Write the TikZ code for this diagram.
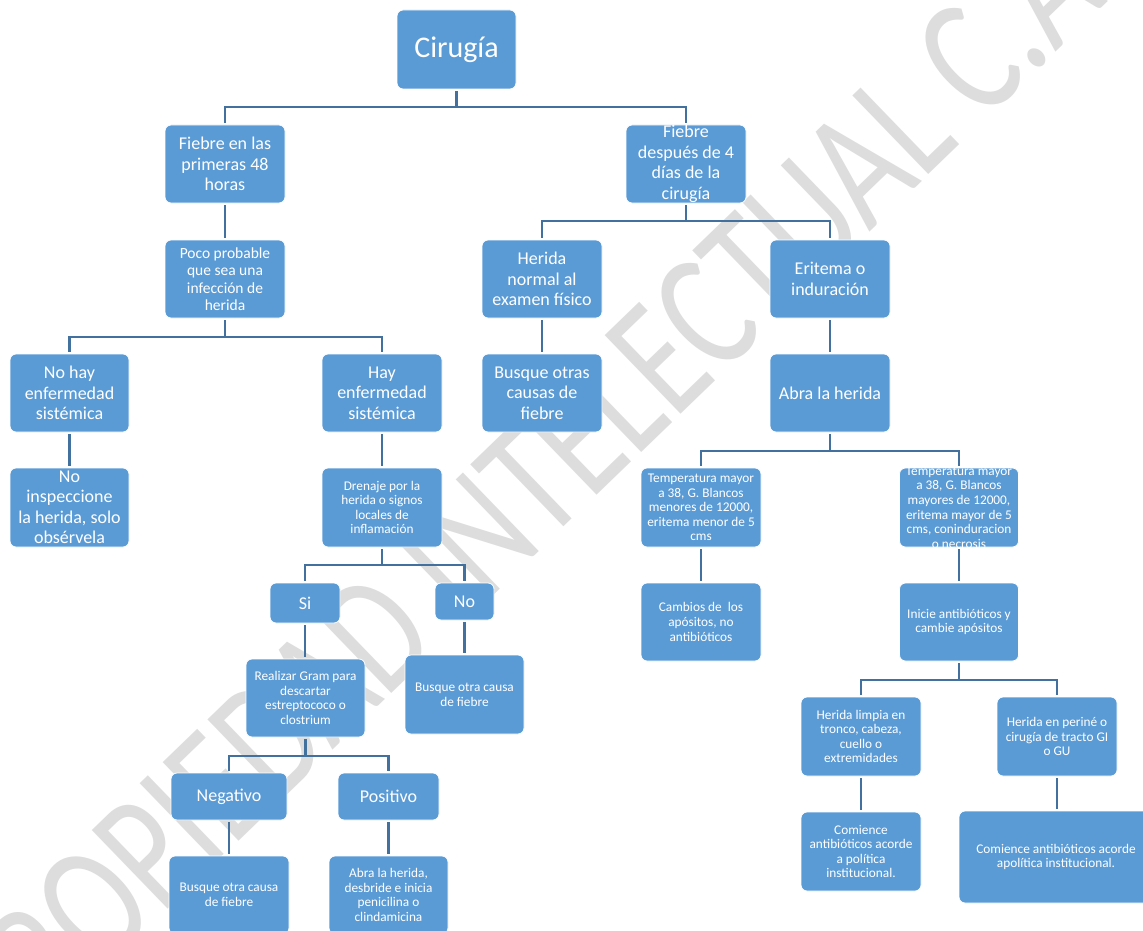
\documentclass[tikz,border=0pt]{standalone}
\usepackage{fontspec}
\setmainfont{Carlito}
\definecolor{boxblue}{HTML}{5B9BD5}
\definecolor{linkblue}{HTML}{41719C}
\definecolor{wmgray}{HTML}{DDDDDD}
\newcommand\mybox[7]{%
  \node[box, minimum width=#4pt, minimum height=#5pt] (#1) at (#2,#3) {};
  \node[txt, #6] (#1-t) at (#1.center) {#7};
}
\begin{document}
\begin{tikzpicture}[x=1pt,y=-1pt,
  box/.style={draw=white, line width=0.8pt, fill=boxblue, rounded corners=6pt, inner sep=0pt},
  txt/.style={text=white, align=center, inner sep=0pt},
  froot/.style={font=\fontsize{30}{34}\selectfont},
  fbig/.style={font=\fontsize{18}{20.5}\selectfont},
  fmid/.style={font=\fontsize{15.5}{17.5}\selectfont},
  fsm/.style={font=\fontsize{13.3}{14.6}\selectfont},
  conn/.style={draw=linkblue, line width=2.6pt, shorten >=2pt, shorten <=2pt},
  stem/.style={draw=linkblue, line width=2.6pt, shorten <=2pt},
  wm/.style={text=wmgray, font=\fontsize{128}{128}\selectfont, inner sep=0pt}]
\useasboundingbox (0,0) rectangle (1143,931);
\fill[white] (0,0) rectangle (1143,931);

% watermark (stretched like a WordArt watermark)
\begin{scope}[shift={(530,484)}, rotate=44, yscale=1.33]
  \node[wm, transform shape] (wm) at (0,0) {PROPIEDAD INTELECTUAL C.A.};
\end{scope}

% bus levels
\coordinate (b1) at (0,107);
\coordinate (b2) at (0,221);
\coordinate (b3) at (0,337);
\coordinate (b4) at (0,451);
\coordinate (b5) at (0,565);
\coordinate (b6) at (0,756);
\coordinate (b7) at (0,680);

% boxes
\mybox{root}{456.5}{49.5}{119}{79}{froot}{Cirugía}
\mybox{f48}{225}{164}{120}{78}{fbig}{Fiebre en las\\primeras 48\\horas}
\mybox{f4d}{686}{164}{120}{78}{fbig}{Fiebre\\después de 4\\días de la\\cirugía}
\mybox{poco}{225}{279}{120}{78}{fmid}{Poco probable\\que sea una\\infección de\\herida}
\mybox{hnorm}{542}{279}{120}{78}{fbig}{Herida\\normal al\\examen físico}
\mybox{erit}{830}{279}{120}{78}{fbig}{Eritema o\\induración}
\mybox{nohay}{69.5}{393}{119}{78}{fbig}{No hay\\enfermedad\\sistémica}
\mybox{hay}{382}{393}{120}{78}{fbig}{Hay\\enfermedad\\sistémica}
\mybox{busq}{542}{393}{120}{78}{fbig}{Busque otras\\causas de\\fiebre}
\mybox{abra}{830}{393}{120}{78}{fbig}{Abra la herida}
\mybox{noinsp}{69.5}{507.5}{119}{79}{fbig}{No\\inspeccione\\la herida, solo\\obsérvela}
\mybox{dren}{382}{507.5}{120}{79}{fsm}{Drenaje por la\\herida o signos\\locales de\\inflamación}
\mybox{templ}{701}{507.5}{120}{79}{fsm}{Temperatura mayor\\a 38, G. Blancos\\menores de 12000,\\eritema menor de 5\\cms}
\mybox{tempr}{959}{507.5}{119}{79}{fsm}{Temperatura mayor\\a 38, G. Blancos\\mayores de 12000,\\eritema mayor de 5\\cms, coninduracion\\o necrosis}
\mybox{camb}{701}{622}{120}{78}{fsm}{Cambios de\ \ los\\apósitos, no\\antibióticos}
\mybox{inic}{959}{622}{119}{78}{fsm}{Inicie antibióticos y\\cambie apósitos}
\mybox{si}{305}{603}{70}{40}{fbig}{Si}
\mybox{no}{464.5}{601.5}{59}{37}{fbig}{No}
\mybox{gram}{305.5}{698}{119}{78}{fsm}{Realizar Gram para\\descartar\\estreptococo o\\clostrium}
\mybox{busqb}{464.5}{694.5}{119}{79}{fsm}{Busque otra causa\\de fiebre}
\mybox{neg}{229}{796.5}{116}{47}{fbig}{Negativo}
\mybox{pos}{388.5}{796.5}{101}{47}{fbig}{Positivo}
\mybox{busqc}{229}{895}{120}{78}{fsm}{Busque otra causa\\de fiebre}
\mybox{abrab}{388.5}{895}{119}{78}{fsm}{Abra la herida,\\desbride e inicia\\penicilina o\\clindamicina}
\mybox{limp}{861}{736.5}{120}{79}{fsm}{Herida limpia en\\tronco, cabeza,\\cuello o\\extremidades}
\mybox{peri}{1057}{736.5}{120}{79}{fsm}{Herida en periné o\\cirugía de tracto GI\\o GU}
\mybox{coma}{861}{851.5}{120}{79}{fsm}{Comience\\antibióticos acorde\\a política\\institucional.}
\mybox{comb}{1056}{857}{194}{92}{fsm}{Comience antibióticos acorde\\apolítica institucional.}

% connectors: buses
\draw[stem] (root.south) -- (root.south |- b1);
\draw[conn] (f48.north) |- (root.south |- b1) -| (f4d.north);
\draw[stem] (f4d.south) -- (f4d.south |- b2);
\draw[conn] (hnorm.north) |- (f4d.south |- b2) -| (erit.north);
\draw[stem] (poco.south) -- (poco.south |- b3);
\draw[conn] (nohay.north) |- (poco.south |- b3) -| (hay.north);
\draw[stem] (abra.south) -- (abra.south |- b4);
\draw[conn] (templ.north) |- (abra.south |- b4) -| (tempr.north);
\draw[stem] (dren.south) -- (dren.south |- b5);
\draw[conn] (si.north) |- (dren.south |- b5) -| (no.north);
\draw[stem] (gram.south) -- (gram.south |- b6);
\draw[conn] (neg.north) |- (gram.south |- b6) -| (pos.north);
\draw[stem] (inic.south) -- (inic.south |- b7);
\draw[conn] (limp.north) |- (inic.south |- b7) -| (peri.north);

% connectors: single
\draw[conn] (f48.south) -- (poco.north);
\draw[conn] (hnorm.south) -- (busq.north);
\draw[conn] (erit.south) -- (abra.north);
\draw[conn] (nohay.south) -- (noinsp.north);
\draw[conn] (hay.south) -- (dren.north);
\draw[conn] (templ.south) -- (camb.north);
\draw[conn] (tempr.south) -- (inic.north);
\draw[conn] (si.south) -- (si.south |- gram.north);
\draw[conn] (no.south) -- (busqb.north);
\draw[conn] (neg.south) -- (busqc.north);
\draw[conn] (pos.south) -- (abrab.north);
\draw[conn] (limp.south) -- (coma.north);
\draw[conn] (peri.south) -- (peri.south |- comb.north);
\end{tikzpicture}
\end{document}
